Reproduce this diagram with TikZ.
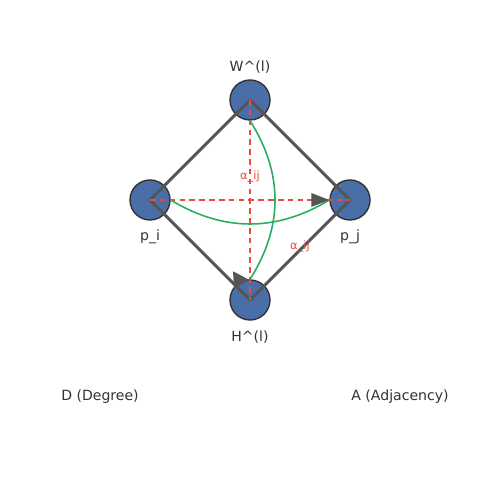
\documentclass[tikz,border=0pt]{standalone}
\usepackage{fontspec}
\setmainfont{DejaVu Sans}
\usetikzlibrary{arrows.meta}
\definecolor{nodeblue}{HTML}{4A6EA8}
\definecolor{edgegray}{HTML}{555555}
\definecolor{attnred}{HTML}{E74C3C}
\definecolor{flowgreen}{HTML}{27AE60}
\definecolor{textgray}{HTML}{333333}
\tikzstyle{graph-node}=[fill=nodeblue,circle,draw=black!80,line width=0.8pt,minimum size=0.8cm,inner sep=0pt]
\tikzstyle{gray-line}=[draw=edgegray,line width=1.7pt]
\tikzstyle{red-dash}=[draw=attnred,line width=1pt,dash pattern=on 3.2pt off 2.4pt]
\tikzstyle{green-curve}=[draw=flowgreen,line width=0.9pt]
\tikzstyle{head-tip}=[fill=edgegray]
\tikzstyle{name-text}=[text=textgray,font=\fontsize{8}{9}\selectfont]
\tikzstyle{alpha-text}=[text=attnred,font=\fontsize{6.5}{7}\selectfont]

\begin{document}
\begin{tikzpicture}
	\useasboundingbox (0,0) rectangle (10,10);
	\begin{scope}
	\node (w)[graph-node] at (5,8) {};
	\node (pi)[graph-node] at (3,6) {};
	\node (pj)[graph-node] at (7,6) {};
	\node (h)[graph-node] at (5,4) {};
	\end{scope}
	
	\begin{scope}
	\path [gray-line] (w.center) -- (pi.center);
	\path [gray-line] (w.center) -- (pj.center);
	\path [gray-line] (pi.center) -- (h.center);
	\path [gray-line] (pj.center) -- (h.center);
	\path [red-dash] (pi.center) -- (pj.center);
	\path [red-dash] (w.center) -- (h.center);
	\path [green-curve] (w.south) .. controls (5.667,6.533) and (5.667,5.467) .. (h.north);
	\path [green-curve] (pi.east) .. controls (4.467,5.36) and (5.533,5.36) .. (pj.west);
	\fill [head-tip] (pj.west) -- ++(-0.36,0.14) -- ++(0,-0.28) -- cycle;
	\fill [head-tip] (h.north) ++(0,-0.02) -- ++(-0.34,0.18) -- ++(0.02,-0.34) -- cycle;
	\end{scope}
	
	\begin{scope}
	\node (lw)[name-text] at (5,8.66) {W\textasciicircum(l)};
	\node (lpi)[name-text] at (3,5.26) {p\_i};
	\node (lpj)[name-text] at (7,5.26) {p\_j};
	\node (lh)[name-text] at (5,3.26) {H\textasciicircum(l)};
	\node (ld)[name-text] at (2,2.06) {D (Degree)};
	\node (la)[name-text] at (8,2.06) {A (Adjacency)};
	\node (a1)[alpha-text] at (5,6.46) {α\_ij};
	\node (a2)[alpha-text] at (6,5.06) {α\_ij};
	\end{scope}
\end{tikzpicture}
\end{document}
